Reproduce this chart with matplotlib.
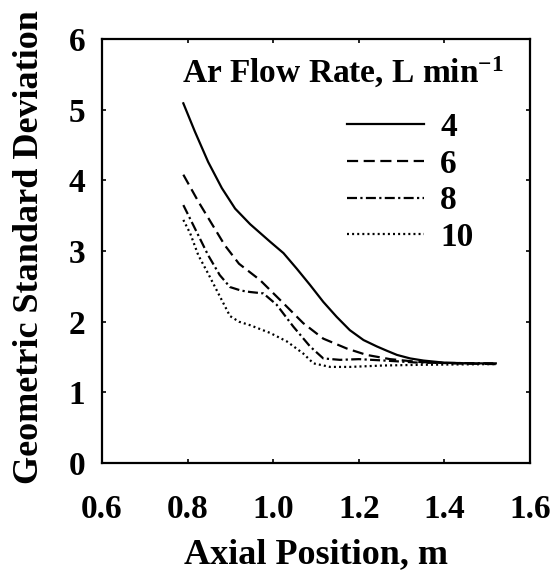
import matplotlib
matplotlib.use("Agg")
import matplotlib.pyplot as plt

plt.rcParams['font.family'] = ['Liberation Serif', 'DejaVu Serif']
plt.rcParams['font.weight'] = 'bold'
plt.rcParams['mathtext.fontset'] = 'custom'
plt.rcParams['mathtext.rm'] = 'Liberation Serif:bold'
plt.rcParams['mathtext.bf'] = 'Liberation Serif:bold'
plt.rcParams['mathtext.default'] = 'bf'

# Geometric standard deviation vs axial position for each Ar flow rate
x_4 = [0.790, 0.817, 0.848, 0.880, 0.911, 0.946, 0.993, 1.024, 1.055, 1.086,
       1.117, 1.148, 1.179, 1.211, 1.242, 1.265, 1.289, 1.320, 1.351, 1.40,
       1.46, 1.52]
y_4 = [5.09, 4.69, 4.26, 3.89, 3.60, 3.38, 3.13, 2.97, 2.75, 2.52,
       2.28, 2.07, 1.88, 1.74, 1.65, 1.59, 1.53, 1.48, 1.45, 1.42,
       1.41, 1.41]

x_6 = [0.790, 0.825, 0.856, 0.887, 0.920, 0.969, 1.024, 1.070, 1.117, 1.172,
       1.218, 1.273, 1.34, 1.42, 1.52]
y_6 = [4.08, 3.70, 3.39, 3.08, 2.82, 2.59, 2.26, 1.98, 1.76, 1.62,
       1.53, 1.47, 1.43, 1.41, 1.40]

x_8 = [0.790, 0.817, 0.848, 0.875, 0.899, 0.925, 0.946, 0.977, 1.008, 1.047,
       1.086, 1.117, 1.156, 1.20, 1.26, 1.34, 1.52]
y_8 = [3.65, 3.32, 2.94, 2.66, 2.49, 2.44, 2.42, 2.40, 2.24, 1.93,
       1.65, 1.48, 1.46, 1.47, 1.45, 1.42, 1.41]

x_10 = [0.790, 0.806, 0.825, 0.848, 0.876, 0.899, 0.920, 0.946, 0.993, 1.032,
        1.070, 1.094, 1.133, 1.18, 1.257, 1.35, 1.52]
y_10 = [3.44, 3.25, 2.94, 2.68, 2.35, 2.08, 2.00, 1.95, 1.84, 1.72,
        1.55, 1.41, 1.36, 1.36, 1.38, 1.39, 1.40]

flow_labels = ['4', '6', '8', '10']
x_ticks = [0.6, 0.8, 1.0, 1.2, 1.4, 1.6]
y_ticks = [0, 1, 2, 3, 4, 5, 6]

fig = plt.figure(figsize=(5.55, 5.71), dpi=100)
ax = fig.add_axes([0.1838, 0.1891, 0.7712, 0.7426])

lw = 1.6
ax.plot(x_4, y_4, color='black', lw=lw, linestyle='-', label=flow_labels[0])
ax.plot(x_6, y_6, color='black', lw=lw, linestyle=(0, (5, 2.5)), label=flow_labels[1])
ax.plot(x_8, y_8, color='black', lw=lw, linestyle=(0, (4.5, 1.5, 1, 1.5)), label=flow_labels[2])
ax.plot(x_10, y_10, color='black', lw=lw, linestyle=(0, (0.9, 1.4)), label=flow_labels[3])

ax.set_xlim(0.6, 1.6)
ax.set_ylim(0, 6)
ax.set_xticks(x_ticks)
ax.set_yticks(y_ticks)
ax.set_xticklabels([f'{v:.1f}' for v in x_ticks])
ax.set_yticklabels([str(v) for v in y_ticks])

for side in ax.spines.values():
    side.set_linewidth(1.6)

ax.tick_params(axis='x', direction='in', length=3, width=1.2, top=True,
               labelsize=24, pad=22)
ax.tick_params(axis='y', direction='in', length=3, width=1.2, right=True,
               labelsize=24, pad=12)

ax.set_xlabel('Axial Position, m', fontsize=26, fontweight='bold')
ax.xaxis.set_label_coords(0.5, -0.178)
ax.set_ylabel('Geometric Standard Deviation', fontsize=26, fontweight='bold')
ax.yaxis.set_label_coords(-0.13, 0.509)

ax.text(0.187, 0.92, 'Ar Flow Rate, L min$^{-1}$', transform=ax.transAxes,
        fontsize=24, fontweight='bold', ha='left', va='center')

ax.legend(loc='upper left', bbox_to_anchor=(0.572, 0.828), frameon=False,
          fontsize=24, handlelength=2.3, handletextpad=0.5, labelspacing=0.17,
          borderpad=0, borderaxespad=0)

fig.savefig('out.png', dpi=100)
